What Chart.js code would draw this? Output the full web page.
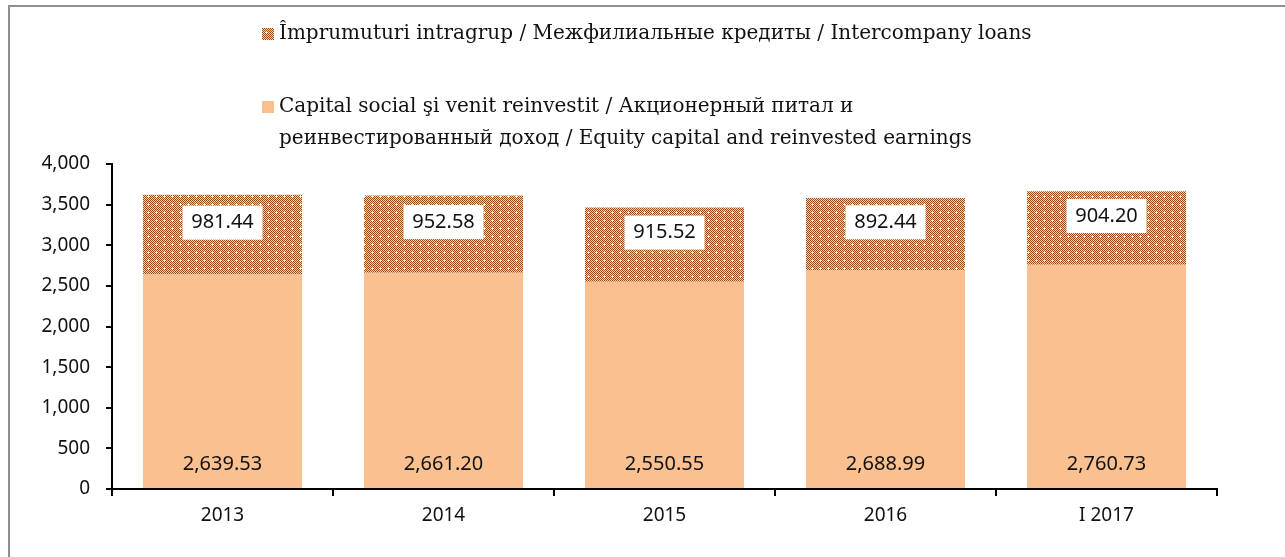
<!DOCTYPE html>
<html>
<head>
<meta charset="utf-8">
<script src="https://cdn.jsdelivr.net/npm/chart.js@4"></script>
<style>
  html, body { margin: 0; padding: 0; background: #fff; }
  #wrap { position: relative; width: 1285px; height: 557px; overflow: hidden; }
  #frame { position: absolute; left: 8px; top: 5px; width: 1400px; height: 700px; border: 2px solid #8f8f8f; box-sizing: border-box; }
  canvas { position: absolute; left: 0; top: 0; }
  .leg { position: absolute; font-family: 'DejaVu Serif', serif; font-size: 20px; color: #111; line-height: 32px; white-space: nowrap; }
  .sw { position: absolute; width: 12px; height: 12px; }
</style>
</head>
<body>
<div id="wrap">
  <div id="frame"></div>
  <canvas id="chart" width="1285" height="557"></canvas>
  <canvas class="sw" id="sw1" width="12" height="12" style="left:262px;top:28px"></canvas>
  <div class="leg" style="left:279px;top:16px">Împrumuturi intragrup / Межфилиальные кредиты / Intercompany loans</div>
  <div class="sw" style="left:262px;top:101px;background:#FAC090"></div>
  <div class="leg" style="left:279px;top:89px">Capital social şi venit reinvestit / Акционерный питал и<br>реинвестированный доход / Equity capital and reinvested earnings</div>
</div>
<script>
// data
const years = ['2013', '2014', '2015', '2016', 'I 2017'];
const equity = [2639.53, 2661.20, 2550.55, 2688.99, 2760.73];
const loans = [981.44, 952.58, 915.52, 892.44, 904.20];
const yTicks = [0, 500, 1000, 1500, 2000, 2500, 3000, 3500, 4000];

const tickFont = { family: "'Noto Sans', sans-serif", size: 19 };

// brown checker pattern with white dots for the loans series
function makePattern(ctx) {
    const c = document.createElement('canvas');
    c.width = 8; c.height = 8;
    const g = c.getContext('2d');
    g.fillStyle = '#f3d3b4';
    g.fillRect(0, 0, 8, 8);
    g.fillStyle = '#9e4a10';
    for (let y = 0; y < 8; y++) {
        for (let x = 0; x < 8; x++) {
            if ((x + y) % 2 === 0) g.fillRect(x, y, 1, 1);
        }
    }
    g.fillStyle = '#ffffff';
    g.fillRect(4, 3, 1, 3);
    g.fillRect(3, 4, 3, 1);
    return ctx.createPattern(c, 'repeat');
}

const ctx = document.getElementById('chart').getContext('2d');
const loanPattern = makePattern(ctx);
const sw = document.getElementById('sw1').getContext('2d');
sw.fillStyle = makePattern(sw);
sw.fillRect(0, 0, 12, 12);

const fmt = v => v.toLocaleString('en-US', { minimumFractionDigits: 2, maximumFractionDigits: 2 });

// draws the value labels: loans in a white box, equity near the bottom
const valueLabels = {
    id: 'valueLabels',
    afterDatasetsDraw(chart) {
        const c = chart.ctx;
        c.save();
        c.font = "20px 'Noto Sans', sans-serif";
        c.textAlign = 'center';
        c.textBaseline = 'middle';
        chart.getDatasetMeta(0).data.forEach((bar, i) => {
            c.fillStyle = '#111';
            c.fillText(fmt(equity[i]), bar.x, bar.base - 24);
        });
        chart.getDatasetMeta(1).data.forEach((bar, i) => {
            const cy = (bar.y + bar.base) / 2 - 12;
            c.fillStyle = '#fff';
            c.fillRect(bar.x - 40, cy - 17, 80, 34);
            c.fillStyle = '#111';
            c.fillText(fmt(loans[i]), bar.x, cy);
        });
        c.restore();
    }
};

new Chart(ctx, {
    type: 'bar',
    data: {
        labels: years,
        datasets: [
            {
                label: 'Capital social şi venit reinvestit',
                data: equity,
                backgroundColor: '#FAC090',
                barPercentage: 0.72,
                categoryPercentage: 1
            },
            {
                label: 'Împrumuturi intragrup',
                data: loans,
                backgroundColor: loanPattern,
                barPercentage: 0.72,
                categoryPercentage: 1
            }
        ]
    },
    options: {
        responsive: false,
        animation: false,
        layout: { padding: { left: 0, top: 164, right: 68, bottom: 0 } },
        plugins: {
            legend: { display: false },
            tooltip: { enabled: false }
        },
        scales: {
            x: {
                stacked: true,
                grid: { drawOnChartArea: false, color: '#000', lineWidth: 2, tickLength: 7, offset: true },
                border: { color: '#000', width: 2 },
                ticks: { color: '#111', font: tickFont, padding: 8 },
                afterFit(s) { s.height = 68; }
            },
            y: {
                stacked: true,
                min: 0,
                max: 4000,
                grid: { drawOnChartArea: false, color: '#000', lineWidth: 2, tickLength: 6 },
                border: { color: '#000', width: 2 },
                afterBuildTicks(s) { s.ticks = yTicks.map(v => ({ value: v })); },
                ticks: {
                    color: '#111',
                    font: tickFont,
                    padding: 16,
                    callback: v => v.toLocaleString('en-US')
                },
                afterFit(s) { s.width = 112; }
            }
        }
    },
    plugins: [valueLabels]
});
</script>
</body>
</html>
